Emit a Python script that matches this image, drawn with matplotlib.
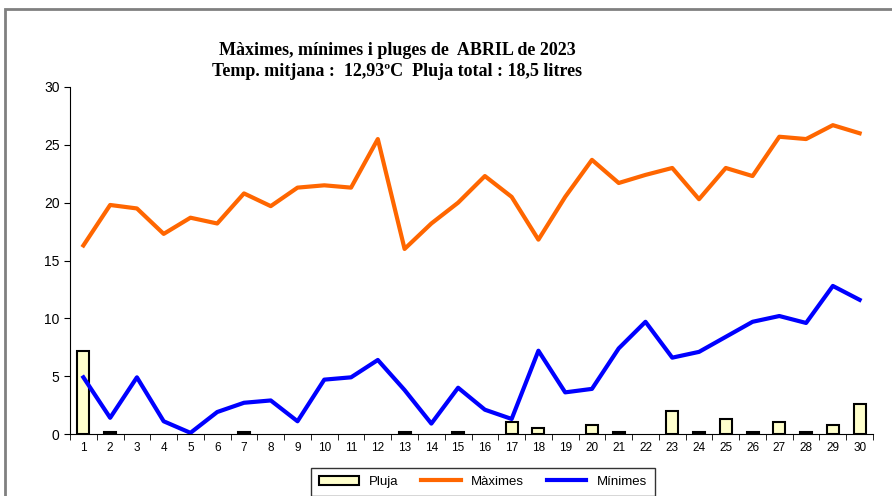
import matplotlib
matplotlib.use("Agg")
import matplotlib.pyplot as plt
from matplotlib.patches import Rectangle
import numpy as np

dies = list(range(1, 31))
maximes = [16.3, 19.8, 19.5, 17.3, 18.7, 18.2, 20.8, 19.7, 21.3, 21.5,
           21.3, 25.5, 16.0, 18.2, 20.0, 22.3, 20.5, 16.8, 20.5, 23.7,
           21.7, 22.4, 23.0, 20.3, 23.0, 22.3, 25.7, 25.5, 26.7, 26.0]
minimes = [4.9, 1.4, 4.9, 1.1, 0.1, 1.9, 2.7, 2.9, 1.1, 4.7,
           4.9, 6.4, 3.8, 0.9, 4.0, 2.1, 1.3, 7.2, 3.6, 3.9,
           7.4, 9.7, 6.6, 7.1, 8.4, 9.7, 10.2, 9.6, 12.8, 11.6]
pluja = [7.2, 0.2, 0, 0, 0, 0, 0.2, 0, 0, 0,
         0, 0, 0.2, 0, 0.2, 0, 1.0, 0.5, 0, 0.8,
         0.2, 0, 2.0, 0.2, 1.3, 0.2, 1.0, 0.2, 0.8, 2.6]

titol = "Màximes, mínimes i pluges de  ABRIL de 2023\nTemp. mitjana :  12,93ºC  Pluja total : 18,5 litres"

W, H = 892, 496
fig = plt.figure(figsize=(W / 100, H / 100), dpi=100)
ax = fig.add_axes([70 / W, 62 / H, 803 / W, 347 / H])

x = np.array(dies)
# no outline for days without rain
lws = [1.5 if p > 0 else 0 for p in pluja]
bars = ax.bar(x, pluja, width=0.45, color="#FFFFCC", edgecolor="black", linewidth=lws,
              label="Pluja", zorder=2)
l1, = ax.plot(x, maximes, color="#FF6600", lw=3, label="Màximes", zorder=3)
l2, = ax.plot(x, minimes, color="#0000FF", lw=3, label="Mínimes", zorder=3)

ax.set_xlim(0.5, 30.5)
ax.set_ylim(0, 30)
ax.set_yticks(range(0, 31, 5))
ax.set_xticks(x)
ax.set_xticks(np.arange(0.5, 31, 1), minor=True)
ax.tick_params(axis="x", which="major", length=0, labelsize=8.5, pad=6)
ax.tick_params(axis="x", which="minor", length=4, direction="out")
ax.tick_params(axis="y", labelsize=10, length=4, direction="out")
for lab in ax.get_xticklabels() + ax.get_yticklabels():
    lab.set_family("Liberation Sans")
ax.spines["top"].set_visible(False)
ax.spines["right"].set_visible(False)

fig.text(397 / W, 1 - 61 / H, titol, ha="center", va="center",
         family="Liberation Serif", weight="bold", fontsize=13, linespacing=1.35)

# chart border
fig.add_artist(Rectangle((5 / W, -0.2), 2, 1.2 - 9 / H, transform=fig.transFigure,
                         fill=False, edgecolor="#808080", lw=2))

pat = Rectangle((0, 0), 1, 1, facecolor="#FFFFCC", edgecolor="black", lw=1.5)
leg = fig.legend([pat, l1, l2], ["Pluja", "Màximes", "Mínimes"],
                 loc="upper center", bbox_to_anchor=(483 / W, 1 - 461 / H), ncol=3,
                 frameon=True, fancybox=False, edgecolor="black",
                 prop={"family": "Liberation Sans", "size": 9.5},
                 handlelength=3, columnspacing=1.7, borderpad=0.6)
leg.get_frame().set_linewidth(1)

fig.savefig("out.png", dpi=100)
